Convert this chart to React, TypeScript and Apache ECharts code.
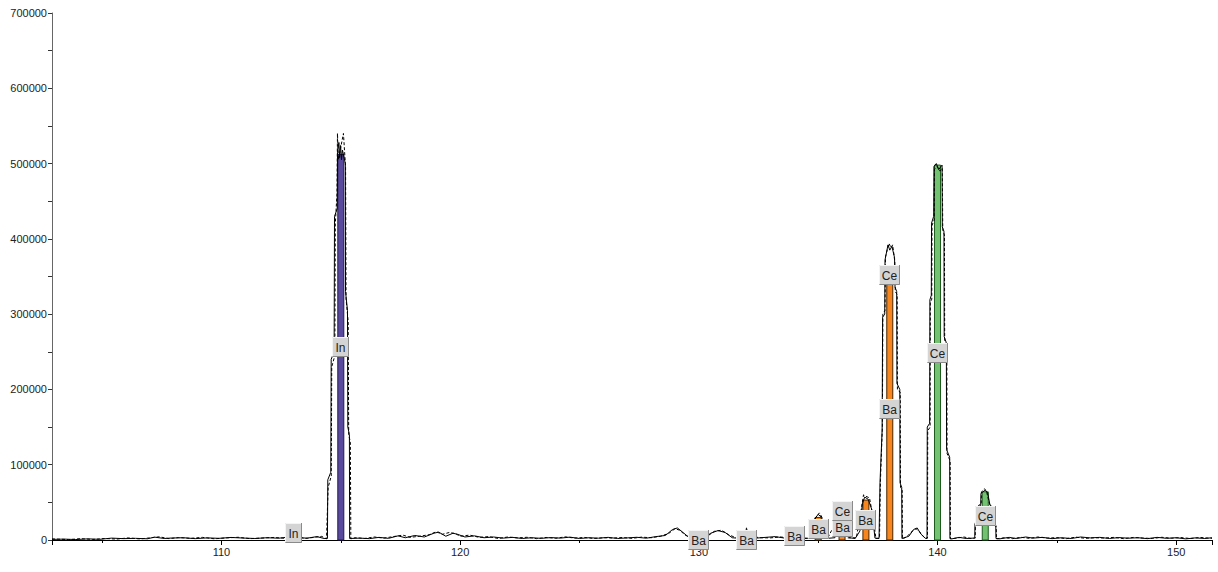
import React, { useEffect, useRef } from "react";
import * as echarts from "echarts";

// ---- axis ----
const xMin = 102.9;
const xMax = 151.5;
const yMax = 700000;
const yInterval = 100000;

// ---- element bars (isotope intensities) ----
const elementNames = ["In", "Ba", "Ce"];
const barMasses = [113, 115, 130, 132, 134, 135, 136, 137, 138, 136, 138, 140, 142];
const barElements = ["In", "In", "Ba", "Ba", "Ba", "Ba", "Ba", "Ba", "Ba", "Ce", "Ce", "Ce", "Ce"];
const barValues = [18600, 512000, 300, 300, 10600, 30000, 34000, 53000, 348000, 8000, 9000, 498000, 64000];

// ---- spectrum (solid trace) ----
const spectrumSolid: number[][] = [
  [102.9, 800], [103.4, 1200], [103.9, 600], [104.4, 1500], [104.9, 900], [105.4, 2500], [105.9, 1800],
  [106.4, 2200], [106.9, 1600], [107.2, 3800], [107.6, 2000], [107.9, 2600], [108.4, 3000], [108.9, 1800],
  [109.4, 2800], [109.9, 2200], [110.4, 3400], [110.9, 2600], [111.4, 2000], [111.9, 3000], [112.4, 2400],
  [112.9, 4200], [113.2, 3000], [113.6, 2500], [114.0, 4500], [114.3, 2000],
  [114.44, 2000], [114.455, 80000], [114.58, 90000], [114.597, 240000], [114.72, 250000], [114.736, 430000],
  [114.85, 440000], [114.862, 515000], [114.92, 528000], [114.95, 508000], [114.99, 524000], [115.03, 505000],
  [115.07, 518000], [115.19, 500000], [115.197, 330000], [115.28, 305000], [115.293, 150000], [115.36, 140000],
  [115.37, 2000],
  [115.8, 2500], [116.2, 1800], [116.6, 3500], [117.0, 2200], [117.4, 5500], [117.7, 3000], [118.1, 6000],
  [118.5, 4000], [118.9, 9000], [119.1, 10500], [119.4, 5000], [119.7, 9000], [119.9, 7500], [120.2, 4000],
  [120.6, 5500], [121.0, 3000], [121.4, 4000], [121.8, 2500], [122.2, 3500], [122.6, 2000], [123.0, 3000],
  [123.4, 2200], [123.8, 3200], [124.2, 2500], [124.6, 3800], [125.0, 2000], [125.4, 3000], [125.8, 2400],
  [126.2, 3500], [126.6, 2000], [127.0, 2800], [127.4, 3600], [127.8, 2400], [128.2, 4500], [128.6, 6000],
  [128.9, 14000], [129.1, 16000], [129.3, 11000], [129.6, 3000], [129.9, 2000], [130.2, 2500], [130.5, 9000],
  [130.8, 12500], [131.1, 10000], [131.4, 3000], [131.8, 2000], [132.0, 4000], [132.4, 2500], [132.8, 3500],
  [133.2, 4500], [133.6, 2500], [133.9, 9000], [134.0, 10500], [134.1, 8500], [134.3, 2000], [134.7, 2500],
  [134.85, 28000], [135.0, 34000], [135.15, 30000], [135.3, 2000], [135.7, 3000], [135.85, 32000], [136.0, 36000],
  [136.15, 32000], [136.3, 3000], [136.55, 2000], [136.75, 12000], [136.85, 48000], [136.95, 57000],
  [137.1, 54000], [137.25, 40000], [137.38, 2500],
  [137.55, 2000], [137.59, 76000], [137.68, 146000], [137.70, 296000], [137.79, 300000], [137.80, 372000],
  [137.925, 392000], [138.0, 385000], [138.09, 390000], [138.20, 375000], [138.22, 336000], [138.29, 330000],
  [138.30, 208000], [138.42, 200000], [138.43, 76000], [138.50, 70000], [138.51, 2000],
  [138.8, 5000], [139.0, 14000], [139.15, 16000], [139.3, 8000], [139.5, 2000],
  [139.56, 2000], [139.57, 150000], [139.67, 155000], [139.68, 319000], [139.74, 325000], [139.75, 421000],
  [139.84, 430000], [139.85, 496000], [139.95, 500000], [140.05, 492000], [140.19, 498000], [140.20, 416000],
  [140.27, 410000], [140.28, 270000], [140.37, 262000], [140.38, 120000], [140.51, 110000], [140.52, 2000],
  [140.6, 1500], [140.9, 3500], [141.2, 2000], [141.5, 2500],
  [141.56, 3000], [141.57, 22000], [141.69, 24000], [141.70, 44000], [141.81, 46000], [141.82, 62000],
  [141.99, 66000], [142.10, 63000], [142.20, 46000], [142.31, 44000], [142.32, 22000], [142.44, 20000],
  [142.45, 2000],
  [142.6, 1500], [143.0, 3500], [143.3, 2000], [143.7, 4000], [144.0, 2500], [144.4, 3500], [144.8, 1800],
  [145.2, 3000], [145.6, 2000], [146.0, 4000], [146.4, 2800], [146.8, 3500], [147.2, 2000], [147.6, 3200],
  [148.0, 2400], [148.4, 3000], [148.8, 1800], [149.2, 3500], [149.6, 2200], [150.0, 3000], [150.4, 1500],
  [150.8, 2800], [151.2, 2000], [151.5, 3000],
];

// ---- spectrum (dashed trace) ----
const spectrumDashed: number[][] = [
  [102.9, 1500], [103.6, 500], [104.1, 1800], [104.6, 700], [105.1, 2000], [105.6, 1200], [106.1, 2800],
  [106.6, 1400], [107.1, 3200], [107.4, 4200], [107.8, 1800], [108.2, 3200], [108.7, 2200], [109.2, 3500],
  [109.7, 1600], [110.2, 2800], [110.7, 3600], [111.2, 1800], [111.7, 2600], [112.2, 3400], [112.7, 2200],
  [113.1, 5200], [113.5, 2000], [113.9, 3600], [114.2, 4800], [114.40, 1500],
  [114.47, 70000], [114.60, 85000], [114.62, 230000], [114.75, 245000], [114.77, 420000], [114.84, 460000],
  [114.86, 540000], [114.9, 505000], [115.0, 522000], [115.11, 540000], [115.2, 495000], [115.22, 320000],
  [115.31, 290000], [115.33, 140000], [115.40, 130000], [115.42, 1500],
  [115.6, 3000], [116.0, 2000], [116.4, 4000], [116.8, 2500], [117.2, 4500], [117.6, 6500], [117.9, 3500],
  [118.3, 5000], [118.7, 7000], [119.0, 11000], [119.25, 7500], [119.55, 10000], [119.8, 8500], [120.0, 5000],
  [120.4, 6500], [120.8, 3500], [121.2, 4500], [121.6, 2000], [122.0, 4000], [122.4, 2800], [122.8, 3600],
  [123.2, 1800], [123.6, 3400], [124.0, 2200], [124.4, 4200], [124.8, 2500], [125.2, 3400], [125.6, 2000],
  [126.0, 3000], [126.4, 2600], [126.8, 3300], [127.2, 2200], [127.6, 3800], [128.0, 3000], [128.4, 5000],
  [128.75, 9000], [129.0, 15000], [129.2, 13000], [129.45, 6000], [129.8, 2500], [130.1, 3000], [130.4, 6000],
  [130.65, 11500], [130.95, 13000], [131.25, 7000], [131.6, 2500], [131.95, 6000], [132.0, 17000],
  [132.05, 5000], [132.6, 3000], [133.0, 2800], [133.4, 4000], [133.8, 3000], [134.0, 11000], [134.2, 3000],
  [134.6, 2000], [134.9, 30000], [135.05, 36000], [135.2, 28000], [135.4, 2500], [135.9, 34000],
  [136.05, 35000], [136.2, 2800], [136.6, 3000], [136.8, 40000], [136.9, 60000], [137.0, 58000],
  [137.15, 56000], [137.3, 30000], [137.42, 2000],
  [137.57, 2500], [137.61, 80000], [137.69, 150000], [137.71, 300000], [137.80, 305000], [137.82, 376000],
  [137.93, 390000], [137.97, 394000], [138.05, 388000], [138.12, 392000], [138.21, 370000], [138.23, 330000],
  [138.31, 326000], [138.32, 200000], [138.44, 196000], [138.45, 70000], [138.52, 66000], [138.53, 1500],
  [138.7, 4000], [138.95, 12000], [139.1, 15000], [139.25, 11000], [139.45, 3000],
  [139.58, 2500], [139.59, 145000], [139.69, 150000], [139.70, 315000], [139.76, 320000], [139.77, 418000],
  [139.86, 425000], [139.87, 492000], [139.98, 496000], [140.1, 490000], [140.2, 494000], [140.22, 412000],
  [140.29, 405000], [140.30, 265000], [140.39, 258000], [140.40, 115000], [140.53, 105000], [140.54, 1500],
  [140.8, 2500], [141.1, 4000], [141.4, 2000],
  [141.58, 2500], [141.59, 24000], [141.71, 26000], [141.72, 46000], [141.83, 48000], [141.84, 64000],
  [141.97, 68000], [142.05, 65000], [142.18, 48000], [142.33, 40000], [142.34, 20000], [142.46, 18000],
  [142.47, 1500],
  [142.8, 3000], [143.15, 1800], [143.5, 3600], [143.85, 2200], [144.2, 4000], [144.6, 2500], [145.0, 3200],
  [145.4, 1800], [145.8, 3800], [146.2, 2200], [146.6, 3000], [147.0, 2600], [147.4, 3500], [147.8, 1800],
  [148.2, 3400], [148.6, 2600], [149.0, 2000], [149.4, 3600], [149.8, 2400], [150.2, 3200], [150.6, 2000],
  [151.0, 3400], [151.5, 2200],
];

// ---- styles ----
const elementFill: Record<string, string> = { In: "#5a4a9e", Ba: "#f7861e", Ce: "#72c272" };
const elementStroke: Record<string, string> = { In: "#231a4a", Ba: "#4a2500", Ce: "#1f5a1f" };
const fontFamily = "'Liberation Sans', Arial, sans-serif";

export default function App() {
  const ref = useRef<HTMLDivElement>(null);

  useEffect(() => {
    if (!ref.current) return;
    const chart = echarts.init(ref.current, undefined, { renderer: "svg" });

    // stack bars of the same mass in listed order
    const stackTop: Record<string, number> = {};
    const barData = barMasses.map((m, i) => {
      const key = String(m);
      const base = stackTop[key] || 0;
      const top = base + barValues[i];
      stackTop[key] = top;
      return [m, base, top, elementNames.indexOf(barElements[i])];
    });
    const labelData = barData.map((d) => [d[0], (d[1] + d[2]) / 2, d[3]]);

    chart.setOption({
      animation: false,
      grid: { left: 52, right: 6, top: 13, bottom: 32 },
      xAxis: {
        type: "value",
        min: xMin,
        max: xMax,
        splitNumber: 5,
        splitLine: { show: false },
        axisLine: { lineStyle: { color: "#000", width: 1 } },
        axisTick: { length: 5, lineStyle: { color: "#000" } },
        minorTick: { show: true, splitNumber: 2, length: 3, lineStyle: { color: "#000" } },
        axisLabel: {
          color: "#222",
          fontSize: 11,
          fontFamily,
          margin: 6,
          formatter: (v: number) => (Math.abs(v % 10) < 1e-6 ? String(Math.round(v)) : ""),
        },
      },
      yAxis: {
        type: "value",
        min: 0,
        max: yMax,
        interval: yInterval,
        splitLine: { show: false },
        axisLine: { show: true, lineStyle: { color: "#666", width: 1 } },
        axisTick: { show: true, length: 4, lineStyle: { color: "#333" } },
        minorTick: { show: true, splitNumber: 2, length: 4, lineStyle: { color: "#333" } },
        axisLabel: { color: "#222", fontSize: 11, fontFamily, margin: 5, formatter: (v: number) => String(v) },
      },
      series: [
        {
          type: "custom",
          name: "bars",
          z: 2,
          data: barData,
          encode: { x: 0, y: [1, 2] },
          renderItem: (_p: any, api: any) => {
            const m = api.value(0);
            const p0 = api.coord([m, api.value(1)]);
            const p1 = api.coord([m, api.value(2)]);
            const el = elementNames[api.value(3)];
            return {
              type: "rect",
              shape: { x: p0[0] - 3, y: p1[1], width: 6, height: p0[1] - p1[1] },
              style: { fill: elementFill[el], stroke: elementStroke[el], lineWidth: 1 },
            };
          },
        },
        {
          type: "line",
          name: "dashed",
          z: 3,
          data: spectrumDashed,
          showSymbol: false,
          symbol: "none",
          lineStyle: { color: "#000", width: 1, type: [3, 2] },
        },
        {
          type: "line",
          name: "solid",
          z: 3,
          data: spectrumSolid,
          showSymbol: false,
          symbol: "none",
          lineStyle: { color: "#000", width: 1 },
        },
        {
          type: "custom",
          name: "labels",
          z: 5,
          data: labelData,
          encode: { x: 0, y: 1 },
          renderItem: (_p: any, api: any) => {
            const c = api.coord([api.value(0), api.value(1)]);
            const el = elementNames[api.value(2)];
            const w = el === "In" ? 17 : 21;
            const h = 20;
            const x = Math.round(c[0] - w / 2);
            const y = Math.round(c[1] - h / 2);
            return {
              type: "group",
              children: [
                { type: "rect", shape: { x, y, width: w, height: h }, style: { fill: "#d4d4d4" } },
                {
                  type: "polyline",
                  shape: { points: [[x + 0.5, y + h - 1], [x + 0.5, y + 0.5], [x + w - 1, y + 0.5]] },
                  style: { stroke: "#f4f4f4", fill: "none", lineWidth: 1 },
                },
                {
                  type: "polyline",
                  shape: { points: [[x + 0.5, y + h - 0.5], [x + w - 0.5, y + h - 0.5], [x + w - 0.5, y]] },
                  style: { stroke: "#8a8a8a", fill: "none", lineWidth: 1 },
                },
                {
                  type: "text",
                  style: {
                    text: el,
                    x: x + w / 2,
                    y: y + h / 2 + 1,
                    align: "center",
                    verticalAlign: "middle",
                    fill: "#222",
                    font: `12px ${fontFamily}`,
                  },
                },
              ],
            };
          },
        },
      ],
    });

    return () => chart.dispose();
  }, []);

  return (
    <div
      ref={ref}
      style={{ position: "fixed", left: 0, top: 0, width: 1218, height: 572, background: "#fff" }}
    />
  );
}
